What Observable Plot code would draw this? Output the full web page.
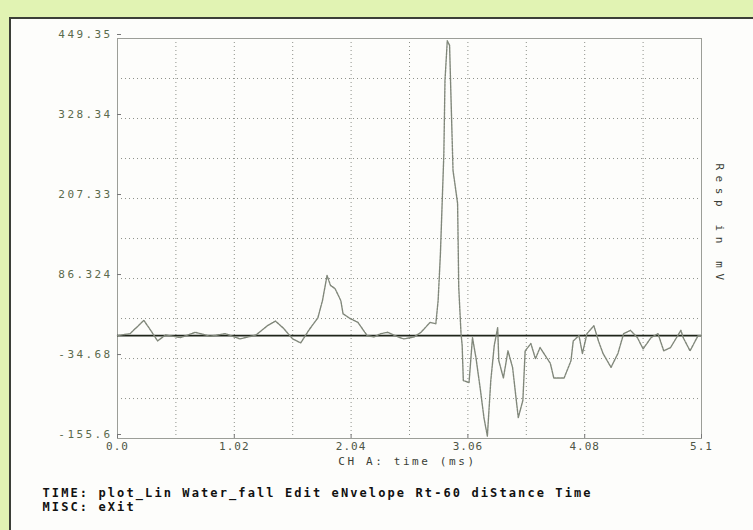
<!DOCTYPE html>
<html>
<head>
<meta charset="utf-8">
<script src="https://cdn.jsdelivr.net/npm/d3@7"></script>
<script src="https://cdn.jsdelivr.net/npm/@observablehq/plot@0.6"></script>
<style>
  html, body { margin: 0; padding: 0; width: 753px; height: 530px; overflow: hidden; background: #e1f3b3; }
  #panel { position: absolute; left: 9px; top: 17px; width: 760px; height: 530px; background: #fdfdfb;
           border-top: 2px solid #3c3f38; border-left: 2px solid #3c3f38; }
  #chart { position: absolute; left: 0; top: 0; }
  [aria-label="y-axis tick label"] text { letter-spacing: 2.4px; }
  [aria-label="x-axis tick label"] text { letter-spacing: 1.0px; }
</style>
</head>
<body>
<div id="panel"></div>
<div id="chart"></div>
<script>
// ---- data ----
const timeMs = [0, 0.11, 0.23, 0.29, 0.35, 0.42, 0.55, 0.68, 0.81, 0.94, 1.07, 1.21, 1.31, 1.38, 1.45, 1.53, 1.60, 1.67, 1.75, 1.79, 1.83, 1.86, 1.90, 1.95, 1.97, 2.03, 2.10, 2.18, 2.24, 2.30, 2.36, 2.45, 2.50, 2.59, 2.65, 2.73, 2.78, 2.80, 2.82, 2.85, 2.86, 2.88, 2.90, 2.91, 2.93, 2.97, 2.98, 3.00, 3.01, 3.02, 3.07, 3.10, 3.13, 3.17, 3.20, 3.23, 3.26, 3.29, 3.32, 3.33, 3.37, 3.41, 3.45, 3.49, 3.50, 3.54, 3.56, 3.61, 3.65, 3.69, 3.78, 3.81, 3.90, 3.96, 3.98, 4.03, 4.06, 4.10, 4.16, 4.20, 4.24, 4.31, 4.37, 4.42, 4.48, 4.54, 4.59, 4.66, 4.72, 4.77, 4.83, 4.92, 4.94, 5.00, 5.07, 5.10];
const respMv = [0, 3, 23, 8, -8, 1, -3, 5, -1, 3, -5, 1, 15, 22, 11, -5, -11, 8, 27, 53, 91, 76, 71, 53, 33, 26, 20, 0, -2, 3, 5, -2, -5, -2, 5, 20, 18, 53, 124, 275, 386, 446, 439, 375, 250, 200, 73, 3, -15, -68, -71, -3, -33, -83, -124, -152, -68, -15, 12, -38, -64, -23, -48, -109, -124, -98, -23, -12, -35, -18, -42, -64, -64, -38, -8, 0, -27, 3, 15, -8, -27, -48, -27, 3, 8, -3, -20, -3, 3, -23, -18, 8, -3, -23, 0, 0];

const xTickValues = [0, 1.02, 2.04, 3.06, 4.08, 5.1];
const xTickLabels = ["0.0", "1.02", "2.04", "3.06", "4.08", "5.1"];
const yTickValues = [449.35, 328.34, 207.33, 86.324, -34.686, -155.6];
const yTickLabels = ["449.35", "328.34", "207.33", "86.324", "-34.68", "-155.6"];
const xGrid = [0.51, 1.02, 1.53, 2.04, 2.55, 3.06, 3.57, 4.08, 4.59];
const yGrid = [388.845, 328.34, 267.835, 207.33, 146.825, 86.324, 25.82, -34.686, -95.19];
const xTitle = ["CH A: time (ms)"];
const yTitle = ["Resp in mV"];
const menuLine1 = ["TIME: plot_Lin Water_fall Edit eNvelope Rt-60 diStance Time"];
const menuLine2 = ["MISC: eXit"];

const trace = timeMs.map((t, i) => ({t, v: respMv[i]}));
const xLab = new Map(xTickValues.map((v, i) => [v, xTickLabels[i]]));
const yLab = new Map(yTickValues.map((v, i) => [v, yTickLabels[i]]));
const mono = "DejaVu Sans Mono";

const chart = Plot.plot({
  width: 753,
  height: 530,
  marginLeft: 117,
  marginRight: 52,
  marginTop: 38,
  marginBottom: 92,
  style: {background: "transparent", overflow: "visible", fontFamily: mono},
  x: {domain: [0, 5.1]},
  y: {domain: [-155.6, 449.35]},
  marks: [
    Plot.gridX(xGrid, {stroke: "#8e918a", strokeOpacity: 1, strokeDasharray: "1,3"}),
    Plot.gridY(yGrid, {stroke: "#8e918a", strokeOpacity: 1, strokeDasharray: "1,3"}),
    Plot.frame({stroke: "#9c9e98"}),
    Plot.axisY(yTickValues, {anchor: "left", tickSize: -4, tickPadding: 9, stroke: "#777",
      tickFormat: d => yLab.get(d), fontSize: 11, fill: "#5a6a4c", dy: -4, label: null}),
    Plot.axisX(xTickValues, {anchor: "bottom", tickSize: -4, tickPadding: 8, stroke: "#777",
      tickFormat: d => xLab.get(d), fontSize: 11, fill: "#4e5646", label: null}),
    Plot.ruleY([0], {stroke: "#1f251a", strokeWidth: 1.6}),
    Plot.line(trace, {x: "t", y: "v", stroke: "#80877a", strokeWidth: 1.4, strokeDasharray: "2.5,1"}),
    Plot.text(xTitle, {text: d => d, frameAnchor: "bottom", textAnchor: "middle", dx: -2, dy: 26, fontSize: 11,
      fill: "#3a3d36"}),
    Plot.text(yTitle, {text: d => d, frameAnchor: "right", textAnchor: "middle", dx: 18, dy: -14, rotate: 90,
      fontSize: 11, fill: "#3a3d36"}),
    Plot.text(menuLine1, {text: d => d, frameAnchor: "bottom-left", textAnchor: "start", dx: -75, dy: 58,
      fontSize: 12, fontWeight: "bold", fill: "#111"}),
    Plot.text(menuLine2, {text: d => d, frameAnchor: "bottom-left", textAnchor: "start", dx: -75, dy: 72,
      fontSize: 12, fontWeight: "bold", fill: "#111"})
  ]
});
document.getElementById("chart").appendChild(chart);

// widen the spacing of the bitmap-like terminal lettering
const spacing = new Map([
  [xTitle[0], "2.6px"],
  [yTitle[0], "5.6px"],
  [menuLine1[0], "2.1px"],
  [menuLine2[0], "2.1px"]
]);
d3.select(chart).selectAll("text").each(function () {
  const s = spacing.get(this.textContent);
  if (s) this.style.letterSpacing = s;
});
</script>
</body>
</html>
